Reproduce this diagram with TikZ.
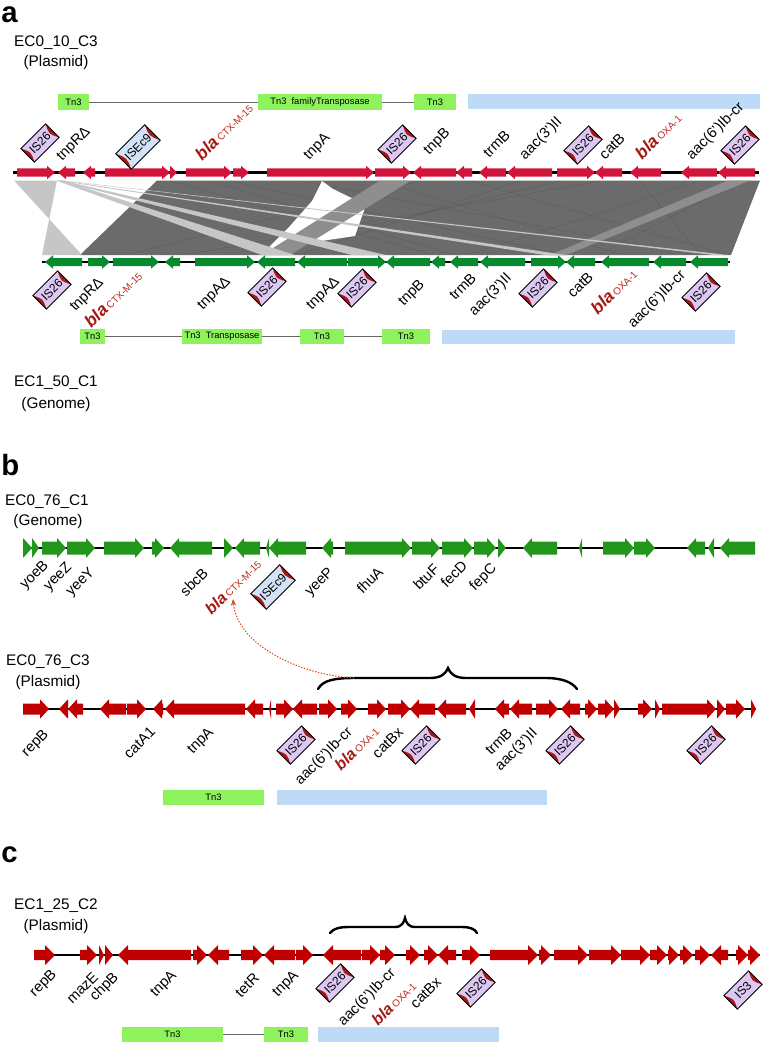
\documentclass[tikz,border=0pt]{standalone}
\usepackage{graphicx}
\usepackage{fontspec}
\setmainfont{Liberation Sans}
\usetikzlibrary{calc,arrows.meta}
\definecolor{redA}{HTML}{D2143A}
\definecolor{redB}{HTML}{C00000}
\definecolor{greenA}{HTML}{078A2E}
\definecolor{greenB}{HTML}{22961A}
\definecolor{tnG}{HTML}{8DF25C}
\definecolor{tnBlue}{HTML}{BDDAF7}
\definecolor{isP}{HTML}{DCC8F2}
\definecolor{isB}{HTML}{D3E3F7}
\definecolor{isRed}{HTML}{A81818}
\definecolor{blaC}{HTML}{A31A14}
\definecolor{subC}{HTML}{C0281E}
\definecolor{linkDark}{HTML}{6B6B6B}
\definecolor{linkLight}{HTML}{C6C6C6}
\definecolor{linkMid}{HTML}{8E8E8E}
\definecolor{arrowC}{HTML}{E2461E}
\colorlet{gc}{redA}
\def\gy{0}\def\hb{4}\def\hh{6.5}\def\hl{8}
\newcommand\geneR[2]{%
  \pgfmathsetmacro\gLen{min(\hl,#2-#1)}%
  \pgfmathsetmacro\gMid{#2-\gLen}%
  \fill[gc] (#1,\gy-\hb) -- (\gMid,\gy-\hb) -- (\gMid,\gy-\hh) -- (#2,\gy) -- (\gMid,\gy+\hh) -- (\gMid,\gy+\hb) -- (#1,\gy+\hb) -- cycle;}
\newcommand\geneL[2]{%
  \pgfmathsetmacro\gLen{min(\hl,#2-#1)}%
  \pgfmathsetmacro\gMid{#1+\gLen}%
  \fill[gc] (#2,\gy-\hb) -- (\gMid,\gy-\hb) -- (\gMid,\gy-\hh) -- (#1,\gy) -- (\gMid,\gy+\hh) -- (\gMid,\gy+\hb) -- (#2,\gy+\hb) -- cycle;}
\newcommand\blaT[2][13]{{\color{blaC}\fontsize{#1}{#1}\selectfont\bfseries\itshape bla}\kern1.5pt{\color{subC}\fontsize{7.5}{8}\selectfont #2}}
\newdimen\labW
\newcommand\labfont{\fontsize{11}{13}\selectfont}
\newcommand\measureLab[1]{\pgfinterruptpicture\setbox0=\hbox{\labfont #1}\global\labW=\wd0 \endpgfinterruptpicture}
\newcommand\rotT[1]{\rotatebox{45}{\makebox[0pt]{\smash{\raisebox{-0.35em}{#1}}}}}
% label above a track: name, x, y of the start of the baseline, text
\newcommand\upL[4]{%
  \measureLab{#4}%
  \pgfmathsetmacro\lw{\labW/0.75}%
  \node[lab] (#1) at ($(#2,#3)+(-45:{\lw/2})+(-135:5)$) {\rotT{#4}};}
% label below a track: name, x, y of the end of the baseline, text
\newcommand\dnL[4]{%
  \measureLab{#4}%
  \pgfmathsetmacro\lw{\labW/0.75}%
  \node[lab] (#1) at ($(#2,#3)+(135:{\lw/2})+(-135:5)$) {\rotT{#4}};}
\newcommand\TNB[6]{%
  \pgfmathsetmacro\tnW{(#3-#2)*0.75}\pgfmathsetmacro\tnH{(#5-#4)*0.75}%
  \node[tnbox, minimum width=\tnW pt, minimum height=\tnH pt] (#1) at ({(#2+#3)/2},{(#4+#5)/2}) {#6};}
\newcommand\BLB[5]{%
  \pgfmathsetmacro\tnW{(#3-#2)*0.75}\pgfmathsetmacro\tnH{(#5-#4)*0.75}%
  \node[bluebox, minimum width=\tnW pt, minimum height=\tnH pt] (#1) at ({(#2+#3)/2},{(#4+#5)/2}) {};}
% IS element: name, x, y, text, fill, width(px), height(px)
\newcommand\ISB[7]{%
  \begin{scope}[shift={(#2,#3)},rotate=45]
    \fill[#5] ({-#6/2},{-#7/2}) rectangle ({#6/2},{#7/2});
    \fill[isRed] ({#6/2},{-#7/2}) .. controls ({#6/2-5},0) .. ({#6/2},{#7/2}) -- cycle;
    \fill[isRed] ({-#6/2},{#7/2}) .. controls ({-#6/2+5},0) .. ({-#6/2},{-#7/2}) -- cycle;
    \draw[line width=0.7pt] ({-#6/2},{-#7/2}) rectangle ({#6/2},{#7/2});
  \end{scope}
  \node[istext] (#1) at (#2,#3) {\rotatebox{45}{#4}};}
\begin{document}
\begin{tikzpicture}[x=0.75pt,y=-0.75pt,
  lab/.style={inner sep=0pt,font=\labfont},
  title/.style={font=\fontsize{11.5}{13}\selectfont, inner sep=0pt},
  panel/.style={font=\fontsize{22}{24}\selectfont\bfseries, inner sep=0pt, anchor=base west},
  istext/.style={inner sep=0pt, font=\fontsize{9}{9}\selectfont},
  tnbox/.style={fill=tnG, inner sep=0pt, font=\fontsize{7}{8}\selectfont},
  bluebox/.style={fill=tnBlue, inner sep=0pt},
  tnline/.style={draw=black!60, line width=0.5pt},
  backbone/.style={line width=1.6pt, black},
  brace/.style={line width=1.8pt, line cap=round},
  linkLine/.style={draw=black!70, line width=0.25pt, opacity=0.5}]
\useasboundingbox (0,0) rectangle (766,1043);

% ================= panel a =================
\node[panel] (pa) at (1,22) {a};
\node[title] (tA1) at (56,43) {EC0\_10\_C3};
\node[title] (tA2) at (56,63) {(Plasmid)};
\node[title] (tA3) at (56,383) {EC1\_50\_C1};
\node[title] (tA4) at (56,405) {(Genome)};

\TNB{a1}{58}{89}{94}{110}{Tn3}
\TNB{a2}{258}{382}{94}{110}{Tn3\ \ familyTransposase}
\TNB{a3}{414}{456}{94}{110}{Tn3}
\BLB{a4}{468}{760}{94}{109}
\draw[tnline] (a1.east) -- (a2.west);
\draw[tnline] (a2.east) -- (a3.west);

% links
\fill[linkDark] (157,180.5) -- (760,180.5) -- (731,255) -- (80,255) -- cycle;
\foreach \p/\q in {170/430, 230/560, 300/690, 420/130, 520/300, 600/190, 700/470, 740/600, 470/725, 210/450, 640/700, 380/620, 560/250}
  {\draw[linkLine] (\p,181) -- (\q,254);}
\fill[white] (322,181) -- (333,189) -- (366,205) -- (355,236) -- (328,240) -- (266,250) -- (290,226) -- (312,201) -- cycle;
\fill[linkMid] (380,180.5) -- (411,180.5) -- (290,255) -- (262,255) -- cycle;
\fill[linkMid] (728,180.5) -- (750,180.5) -- (566,255) -- (550,255) -- cycle;
\fill[linkLight] (14,180.5) -- (57,180.5) -- (42,255) -- (82,255) -- cycle;
\fill[linkLight] (56,180.5) -- (62,180.5) -- (295,255) -- (262,255) -- cycle;
\fill[linkLight] (57,180.5) -- (62,180.5) -- (386,255) -- (352,255) -- cycle;
\fill[linkLight] (58,180.5) -- (62,180.5) -- (566,255) -- (545,255) -- cycle;
\fill[linkLight] (59,180.5) -- (62,180.5) -- (728,255) -- (714,255) -- cycle;

% top track (red)
\coordinate (bA1) at (13,172.5); \coordinate (bA2) at (759,172.5);
\draw[backbone] (bA1) -- (bA2);
\colorlet{gc}{redA}\def\gy{172.5}\def\hb{4.2}\def\hh{6.7}\def\hl{8}
\foreach \d/\a/\b in {R/17/55, L/58/75, L/83/95, R/105/170, R/170/177, R/186/232, R/233/249, R/267/374, R/375/411, L/413/456, L/456/472, L/479/506, L/507/552, R/557/595, L/595/622, L/630/661, L/681/717, L/718/755}
  {\csname gene\d\endcsname{\a}{\b}}

\ISB{isA1}{40}{143}{IS26}{isP}{35}{19}
\ISB{isA2}{138}{147}{ISEc9}{isB}{41}{22}
\ISB{isA3}{397}{144}{IS26}{isP}{35}{19}
\ISB{isA4}{583}{145}{IS26}{isP}{35}{19}
\ISB{isA5}{740}{145}{IS26}{isP}{35}{19}
\upL{lA1}{62}{161}{tnpRΔ}
\upL{lA2}{202}{161}{\blaT{CTX-M-15}}
\upL{lA3}{309}{160}{tnpA}
\upL{lA4}{429}{155}{tnpB}
\upL{lA5}{489}{158}{trmB}
\upL{lA6}{525}{160}{aac(3')II}
\upL{lA7}{605}{160}{catB}
\upL{lA8}{642}{160}{\blaT{OXA-1}}
\upL{lA9}{692}{160}{aac(6')Ib-cr}

% bottom track (green)
\coordinate (bB1) at (42,262); \coordinate (bB2) at (730,262);
\draw[backbone] (bB1) -- (bB2);
\colorlet{gc}{greenA}\def\gy{262}\def\hb{4}\def\hh{6.7}\def\hl{8}
\foreach \d/\a/\b in {L/45/82, R/88/110, R/113/159, L/165/180, R/195/255, L/257/295, L/297/347, R/348/386, L/386/430, L/431/445, L/450/478, L/480/525, R/531/566, L/566/595, L/601/649, L/653/686, L/690/728}
  {\csname gene\d\endcsname{\a}{\b}}

\ISB{isB1}{52}{290}{IS26}{isP}{35}{19}
\ISB{isB2}{267}{287}{IS26}{isP}{35}{19}
\ISB{isB3}{357}{288}{IS26}{isP}{35}{19}
\ISB{isB4}{538}{288}{IS26}{isP}{35}{19}
\ISB{isB5}{701}{292}{IS26}{isP}{35}{19}
\dnL{lB1}{104}{283}{tnpRΔ}
\dnL{lB2}{143}{277}{\blaT{CTX-M-15}}
\dnL{lB3}{231}{282}{tnpAΔ}
\dnL{lB4}{340}{282}{tnpAΔ}
\dnL{lB5}{425}{285}{tnpB}
\dnL{lB6}{477}{279}{trmB}
\dnL{lB7}{512}{279}{aac(3')II}
\dnL{lB8}{594}{278}{catB}
\dnL{lB9}{638}{275}{\blaT{OXA-1}}
\dnL{lB10}{686}{276}{aac(6')Ib-cr}

\TNB{b1}{80}{105}{329}{344}{Tn3}
\TNB{b2}{182}{262}{329}{344}{Tn3\ \ Transposase}
\TNB{b3}{300}{344}{329}{344}{Tn3}
\TNB{b4}{382}{430}{329}{344}{Tn3}
\BLB{b5}{442}{735}{330}{344}
\draw[tnline] (b1.east) -- (b2.west);
\draw[tnline] (b2.east) -- (b3.west);
\draw[tnline] (b3.east) -- (b4.west);

% ================= panel b =================
\node[panel] (pb) at (1,475) {b};
\node[title] (tB1) at (47,502) {EC0\_76\_C1};
\node[title] (tB2) at (48,522) {(Genome)};
\node[title] (tB3) at (48,662) {EC0\_76\_C3};
\node[title] (tB4) at (48,683) {(Plasmid)};

\coordinate (bC1) at (23,548); \coordinate (bC2) at (755,548);
\draw[backbone] (bC1) -- (bC2);
\colorlet{gc}{greenB}\def\gy{548}\def\hb{6.5}\def\hh{10}\def\hl{9}
\foreach \d/\a/\b in {R/23/32, R/32/39, R/42/66, R/67/95, R/104/144, R/152/164, L/170/212, R/224/233, L/235/260, L/266/269, L/269/306, L/322/333, R/345/411, R/412/440, R/442/473, R/474/496, R/498/506, L/523/557, L/579/582, R/603/634, R/634/655, L/687/705, L/708/714, L/720/755}
  {\csname gene\d\endcsname{\a}{\b}}
\dnL{lC1}{49}{566}{yoeB}
\dnL{lC2}{72}{568}{yeeZ}
\dnL{lC3}{95}{573}{yeeY}
\dnL{lC4}{209}{574}{sbcB}
\dnL{lC5}{262}{565}{\blaT[12]{CTX-M-15}}
\ISB{isC1}{273}{587}{ISEc9}{isB}{41}{22}
\dnL{lC6}{334}{573}{yeeP}
\dnL{lC7}{384}{573}{fhuA}
\dnL{lC8}{440}{570}{btuF}
\dnL{lC9}{468}{567}{fecD}
\dnL{lC10}{497}{569}{fepC}

\coordinate (bD1) at (23,709); \coordinate (bD2) at (756,709);
\draw[backbone] (bD1) -- (bD2);
\colorlet{gc}{redB}\def\gy{709}\def\hb{5.5}\def\hh{9.7}\def\hl{9}
\foreach \d/\a/\b in {R/23/49, L/59/68, L/68/83, L/100/126, R/127/146, L/153/163, L/165/245, L/246/263, L/269/271, R/276/293, L/293/317, R/319/337, R/341/357, R/368/386, R/388/410, L/410/435, L/437/466, L/469/475, L/495/509, L/510/532, R/536/558, L/561/580, R/585/597, R/598/614, R/614/620, R/638/652, R/655/660, R/662/716, R/717/725, R/726/745, R/751/756}
  {\csname gene\d\endcsname{\a}{\b}}
\dnL{lD1}{49}{735}{repB}
\dnL{lD2}{156}{733}{catA1}
\dnL{lD3}{214}{733}{tnpA}
\ISB{isD1}{296}{745}{IS26}{isP}{35}{19}
\dnL{lD4}{353}{733}{aac(6')Ib-cr}
\dnL{lD5}{380}{732}{\blaT[12]{OXA-1}}
\dnL{lD6}{404}{733}{catBx}
\ISB{isD2}{421}{745}{IS26}{isP}{35}{19}
\dnL{lD7}{513}{734}{trmB}
\dnL{lD8}{538}{734}{aac(3')II}
\ISB{isD3}{565}{745}{IS26}{isP}{35}{19}
\ISB{isD4}{706}{745}{IS26}{isP}{35}{19}

\draw[brace] (318,689) .. controls (323,680) and (335,678) .. (355,678) -- (430,678) .. controls (442,678) and (446,673) .. (448,668) .. controls (450,673) and (454,678) .. (466,678) -- (545,678) .. controls (562,678) and (572,682) .. (577,689);
\coordinate (arrS) at (354,678);
\coordinate (arrT) at (233,599);
\draw[arrowC, line width=0.8pt, dash pattern=on 1pt off 1.2pt, -{Stealth[length=5pt,width=4pt]}] (arrS) .. controls (300,675) and (237,645) .. (arrT);

\TNB{c1}{163}{264}{790}{805}{Tn3}
\BLB{c2}{277}{547}{790}{805}

% ================= panel c =================
\node[panel] (pc) at (1,862) {c};
\node[title] (tC1) at (56,906) {EC1\_25\_C2};
\node[title] (tC2) at (56,927) {(Plasmid)};

\coordinate (bE1) at (34,955); \coordinate (bE2) at (760,955);
\draw[backbone] (bE1) -- (bE2);
\colorlet{gc}{redB}\def\gy{955}\def\hb{5.2}\def\hh{10}\def\hl{10}
\foreach \d/\a/\b in {R/34/55, R/80/97, R/99/104, R/105/113, L/118/191, R/193/207, L/208/229, R/241/263, L/264/295, R/296/313, L/323/361, R/362/380, R/380/395, R/406/420, R/424/438, L/438/456, R/462/480, R/490/538, R/539/551, R/554/588, R/589/621, R/621/650, R/650/667, R/668/679, R/680/693, R/695/710, L/711/728, R/736/748, R/748/760}
  {\csname gene\d\endcsname{\a}{\b}}
\dnL{lE1}{57}{975}{repB}
\dnL{lE2}{99}{978}{mazE}
\dnL{lE3}{119}{978}{chpB}
\dnL{lE4}{177}{976}{tnpA}
\dnL{lE5}{260}{979}{tetR}
\dnL{lE6}{299}{976}{tnpA}
\ISB{isE1}{335}{983}{IS26}{isP}{35}{19}
\dnL{lE7}{396}{974}{aac(6')Ib-cr}
\dnL{lE8}{417}{987}{\blaT[12]{OXA-1}}
\dnL{lE9}{442}{983}{catBx}
\ISB{isE2}{476}{988}{IS26}{isP}{35}{19}
\ISB{isE3}{743}{990}{IS3}{isP}{35}{19}

\draw[brace] (330,933) .. controls (334,928) and (340,927) .. (350,927) -- (395,927) .. controls (402,927) and (404,922) .. (405,918) .. controls (406,922) and (408,927) .. (415,927) -- (462,927) .. controls (470,927) and (475,929) .. (477,933);

\TNB{d1}{122}{223}{1027}{1042}{Tn3}
\TNB{d2}{264}{308}{1027}{1042}{Tn3}
\BLB{d3}{318}{499}{1027}{1042}
\draw[tnline] (d1.east) -- (d2.west);
\end{tikzpicture}
\end{document}
